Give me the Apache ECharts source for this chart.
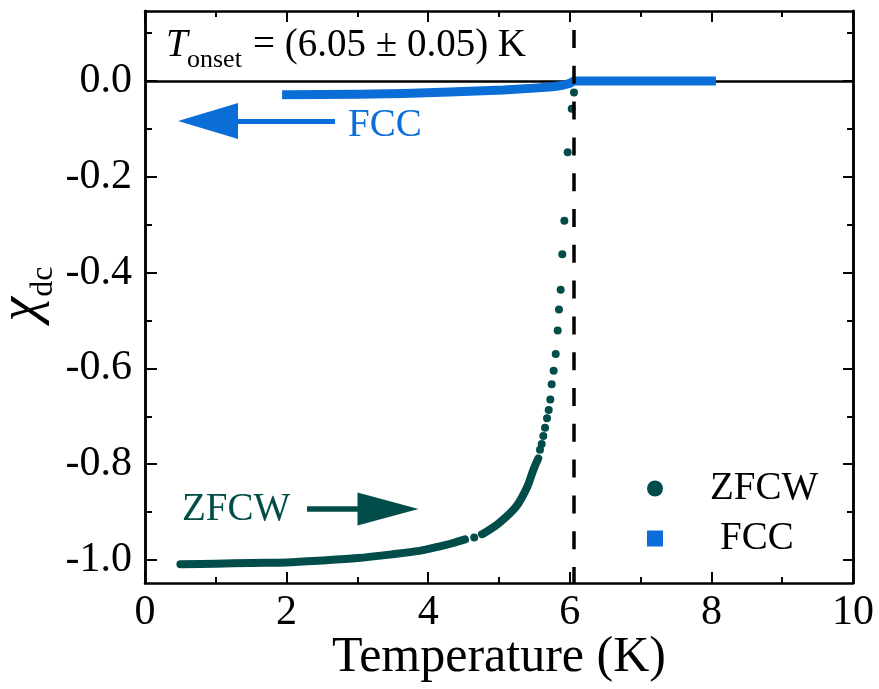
<!DOCTYPE html>
<html><head><meta charset="utf-8">
<script src="https://cdn.jsdelivr.net/npm/echarts@6/dist/echarts.min.js"></script>
<style>html,body{margin:0;padding:0;background:#fff}#c{width:879px;height:689px}</style>
</head><body><div id="c"></div>
<script>
// ---- data ----
const xTicks = [0, 2, 4, 6, 8, 10];
const yMajorTicks = [0.0, -0.2, -0.4, -0.6, -0.8, -1.0];
const yMinorTicks = [0.1, -0.1, -0.3, -0.5, -0.7, -0.9];
// ZFCW dense (continuous-looking) parts [T, chi]
const zfcwBandLow = [[0.50,-1.009],[1.00,-1.008],[1.50,-1.006],[2.00,-1.005],[2.50,-1.001],[3.00,-0.996],[3.50,-0.988],[3.87,-0.981],[4.15,-0.972],[4.34,-0.965],[4.52,-0.957]];
const zfcwBandHigh = [[4.76,-0.946],[4.79,-0.944],[5.00,-0.923],[5.24,-0.889],[5.40,-0.847],[5.485,-0.812],[5.555,-0.788]];
// ZFCW isolated points
const zfcwDots = [[4.65,-0.953],[5.579,-0.770],[5.603,-0.758],[5.626,-0.741],[5.650,-0.724],[5.678,-0.704],[5.702,-0.687],[5.725,-0.665],[5.744,-0.633],[5.772,-0.605],[5.801,-0.570],[5.829,-0.521],[5.847,-0.477],[5.871,-0.436],[5.894,-0.362],[5.923,-0.292],[5.970,-0.149],[6.027,-0.058],[6.059,-0.024]];
// FCC curve
const fccCurve = [[2.00,-0.029],[2.50,-0.0285],[3.00,-0.028],[3.65,-0.026],[4.30,-0.023],[5.06,-0.019],[5.50,-0.015],[5.76,-0.012],[5.90,-0.009],[6.00,-0.005],[6.06,0.0],[6.50,0.0],[7.00,0.0],[7.50,0.0],[8.00,0.0]];
const tOnset = 6.05;
// annotation arrows: [start, end] in data coords
const fccArrow = [[2.684,-0.0835],[0.890,-0.0835]];
const zfcwArrow = [[2.288,-0.8935],[3.432,-0.8935]];

const TEAL = '#024D4A', BLUE = '#0B6ED7';
const FONT = '"Liberation Serif", "Times New Roman", serif';
const Y_MIN = -1.048, Y_MAX = 0.146;

const chart = echarts.init(document.getElementById('c'), null, {renderer: 'canvas'});

function yAxisDef(pos, ticks, len, showLabel) {
  return {
    type: 'value', position: pos, min: Y_MIN, max: Y_MAX,
    axisLine: {show: true, onZero: false, lineStyle: {color: '#000', width: 2.5}},
    axisTick: {show: true, inside: true, length: len, customValues: ticks, lineStyle: {color: '#000', width: 2}},
    axisLabel: showLabel ? {show: true, customValues: ticks, margin: 13, fontFamily: FONT, fontSize: 42, color: '#000',
      formatter: v => v.toFixed(1)} : {show: false},
    splitLine: {show: false}
  };
}
function xAxisDef(pos, showLabel) {
  return {
    type: 'value', position: pos, min: 0, max: 10, interval: 2,
    axisLine: {show: true, onZero: false, lineStyle: {color: '#000', width: 2.5}},
    axisTick: {show: true, inside: true, length: 11, lineStyle: {color: '#000', width: 2}},
    minorTick: {show: true, splitNumber: 2, length: 6, lineStyle: {color: '#000', width: 2}},
    axisLabel: showLabel ? {show: true, margin: 9, fontFamily: FONT, fontSize: 42, color: '#000'} : {show: false},
    splitLine: {show: false}, minorSplitLine: {show: false}
  };
}

const xMain = xAxisDef('bottom', true);
xMain.name = 'Temperature (K)';
xMain.nameLocation = 'middle';
xMain.nameGap = 50;
xMain.nameMoveOverlap = false;
xMain.nameTextStyle = {fontFamily: FONT, fontSize: 50, color: '#000'};

const yMain = yAxisDef('left', yMajorTicks, 12, true);
yMain.name = '{c|χ}{s|dc}';
yMain.nameLocation = 'middle';
yMain.nameGap = 95;
yMain.nameMoveOverlap = false;
yMain.nameTextStyle = {padding: [0, 0, 0, 6], rich: {
  c: {fontFamily: FONT, fontSize: 56, fontStyle: 'italic', color: '#000', verticalAlign: 'bottom'},
  s: {fontFamily: FONT, fontSize: 32, color: '#000', verticalAlign: 'bottom', padding: [0,0,-10,0]}
}};

const option = {
  backgroundColor: '#fff',
  animation: false,
  grid: {left: 145, right: 26, top: 11, bottom: 106, containLabel: false, outerBoundsMode: 'none'},
  xAxis: [xMain, xAxisDef('top', false)],
  yAxis: [yMain, yAxisDef('left', yMinorTicks, 7, false), yAxisDef('right', yMajorTicks, 10, false), yAxisDef('right', yMinorTicks, 6, false)],
  legend: {
    orient: 'vertical', left: 647, top: 469, padding: 0, itemGap: 11,
    itemWidth: 16, itemHeight: 16,
    data: [{name: 'ZFCW', icon: 'circle'}, {name: 'FCC', icon: 'rect'}],
    formatter: n => n === 'FCC' ? '{f|FCC}' : '{z|ZFCW}',
    textStyle: {rich: {
      z: {fontFamily: FONT, fontSize: 39, color: '#000', lineHeight: 40, padding: [0,0,0,42]},
      f: {fontFamily: FONT, fontSize: 39, color: '#000', lineHeight: 40, padding: [0,0,0,52]}
    }}
  },
  series: [
    {
      name: 'ZFCW', type: 'scatter', data: zfcwDots, symbol: 'circle', symbolSize: 8,
      itemStyle: {color: TEAL, opacity: 1}, z: 3,
      markLine: {
        silent: true, z: 1, symbol: ['none', 'none'], label: {show: false},
        lineStyle: {color: '#000', width: 2.5, type: 'solid'},
        data: [{yAxis: 0}]
      }
    },
    {
      name: 'ZFCW band 1', type: 'line', data: zfcwBandLow, showSymbol: false, smooth: 0.3,
      lineStyle: {color: TEAL, width: 8, cap: 'round', join: 'round'}, itemStyle: {color: TEAL}, z: 3
    },
    {
      name: 'ZFCW band 2', type: 'line', data: zfcwBandHigh, showSymbol: false, smooth: 0.3,
      lineStyle: {color: TEAL, width: 8, cap: 'round', join: 'round'}, itemStyle: {color: TEAL}, z: 3,
      markLine: {
        silent: true, z: 6, label: {show: false},
        data: [
          [{coord: zfcwArrow[0], symbol: 'none'}, {coord: zfcwArrow[1], symbol: 'triangle', symbolSize: [33, 61]}]
        ],
        lineStyle: {color: TEAL, width: 5.5, type: 'solid'}
      }
    },
    {
      name: 'FCC', type: 'line', data: fccCurve, showSymbol: false,
      lineStyle: {color: BLUE, width: 9, cap: 'square', join: 'round'}, itemStyle: {color: BLUE}, z: 4,
      markLine: {
        silent: true, z: 6, label: {show: false},
        data: [
          [{coord: fccArrow[0], symbol: 'none'}, {coord: fccArrow[1], symbol: 'triangle', symbolSize: [36, 60]}]
        ],
        lineStyle: {color: BLUE, width: 5, type: 'solid'}
      }
    },
    {
      name: 'onset', type: 'line', data: [], z: 5,
      markLine: {
        silent: true, z: 7, symbol: ['none', 'none'], label: {show: false},
        lineStyle: {color: '#000', width: 3.5, type: [18, 17.8], dashOffset: 2},
        data: [{xAxis: tOnset}]
      }
    }
  ],
  graphic: [
    {type: 'text', left: 166, top: 26, z: 10, style: {text: 'T', fontFamily: FONT, fontSize: 39, fontStyle: 'italic', fill: '#000'}},
    {type: 'text', left: 187, top: 47, z: 10, style: {text: 'onset', fontFamily: FONT, fontSize: 26, fill: '#000'}},
    {type: 'text', left: 253, top: 26, z: 10, style: {text: '= (6.05 ± 0.05) K', fontFamily: FONT, fontSize: 39, fill: '#000'}},
    {type: 'text', left: 348, top: 106, z: 10, style: {text: 'FCC', fontFamily: FONT, fontSize: 39, fill: BLUE}},
    {type: 'text', left: 182, top: 490, z: 10, style: {text: 'ZFCW', fontFamily: FONT, fontSize: 39, fill: TEAL}}
  ]
};
chart.setOption(option);
</script></body></html>
